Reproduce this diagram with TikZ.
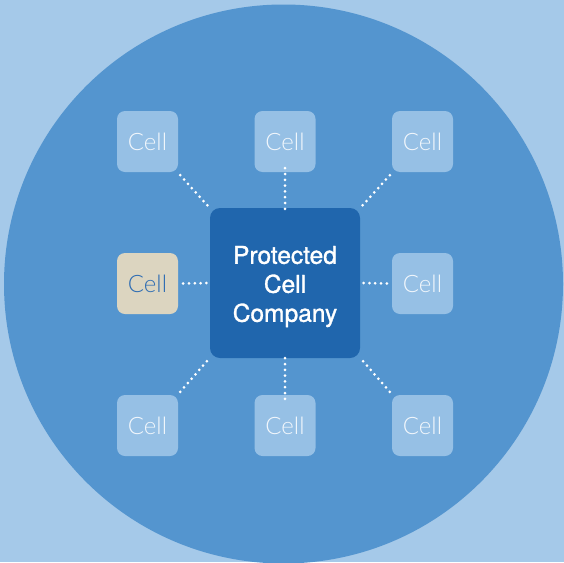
\documentclass[tikz,border=0pt]{standalone}
\usepackage{fontspec}
\setmainfont{TeX Gyre Heros}
\newfontfamily\corefont{TeX Gyre Heros}[FakeBold=1.2]
\newfontfamily\celltxt{Lato}[UprightFont=* Light]
\definecolor{bgblue}{HTML}{A5C9E9}
\definecolor{circblue}{HTML}{5495CF}
\definecolor{coreblue}{HTML}{2066AD}
\definecolor{cellblue}{HTML}{96C0E5}
\definecolor{cellbeige}{HTML}{DCD5C0}
\definecolor{beigetxt}{HTML}{2F6DB3}
\definecolor{celltext}{HTML}{F2F7FC}
\tikzset{
  cellbox/.style={fill=cellblue, rounded corners=8pt, minimum width=61pt, minimum height=61pt, inner sep=0pt, text=celltext, font=\celltxt\fontsize{24}{28}\selectfont},
  beigebox/.style={cellbox, fill=cellbeige, text=beigetxt},
  corebox/.style={fill=coreblue, rounded corners=10pt, minimum width=150pt, minimum height=150pt, inner sep=0pt},
  coretext/.style={text=white, align=center, inner sep=0pt, font=\corefont\fontsize{24.5}{29}\selectfont},
  dotline/.style={draw=white, line width=3pt, line cap=round, dash pattern=on 0pt off 5.8pt}
}
\newcommand{\celllabel}{\raisebox{-1.5pt}{Cell}}
\begin{document}
\begin{tikzpicture}[x=1pt,y=-1pt]
\useasboundingbox (0,0) rectangle (564,562);
\fill[bgblue] (0,0) rectangle (564,562);
\fill[circblue] (283.5,284) circle (279.5);
\node[corebox] (core) at (285,283) {};
\node[coretext] (coretxt) at ([yshift=-3.5pt]core.center) {Protected\\Cell\\Company};
\node[cellbox] (tl) at (147.5,141.5) {\celllabel};
\node[cellbox] (tc) at (285,141.5) {\celllabel};
\node[cellbox] (tr) at (422.5,141.5) {\celllabel};
\node[beigebox] (ml) at (147.5,283.5) {\celllabel};
\node[cellbox] (mr) at (422.5,283.5) {\celllabel};
\node[cellbox] (bl) at (147.5,425.5) {\celllabel};
\node[cellbox] (bc) at (285,425.5) {\celllabel};
\node[cellbox] (br) at (422.5,425.5) {\celllabel};
\draw[dotline] ([shift={(2,3)}]tl.south east) -- ([shift={(-2,-2)}]core.north west);
\draw[dotline] ([yshift=4]tc.south) -- ([yshift=-2]core.north);
\draw[dotline] ([shift={(-2,3)}]tr.south west) -- ([shift={(2,-2)}]core.north east);
\draw[dotline] ([xshift=5]ml.east) -- ([xshift=-2]core.west);
\draw[dotline] ([xshift=-5]mr.west) -- ([xshift=2]core.east);
\draw[dotline] ([shift={(2,-3)}]bl.north east) -- ([shift={(-2,2)}]core.south west);
\draw[dotline] ([yshift=-4]bc.north) -- ([yshift=2]core.south);
\draw[dotline] ([shift={(-2,-3)}]br.north west) -- ([shift={(2,2)}]core.south east);
\end{tikzpicture}
\end{document}
